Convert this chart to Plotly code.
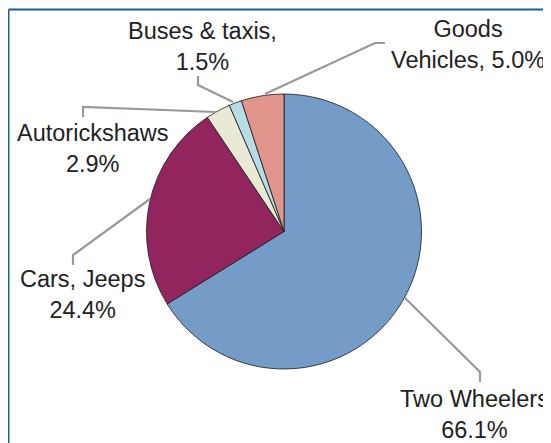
import plotly.graph_objects as go

# données du graphique
categories = ["Two Wheelers", "Cars, Jeeps", "Autorickshaws", "Buses & taxis", "Goods Vehicles"]
shares = [66.1, 24.4, 2.9, 1.5, 5.0]
colors = ["#749CC7", "#93255E", "#E8E9D6", "#B8DCE5", "#E2958D"]
label_texts = [
    "Two Wheelers<br>66.1%",
    "Cars, Jeeps<br>24.4%",
    "Autorickshaws<br>2.9%",
    "Buses & taxis,<br>1.5%",
    "Goods<br>Vehicles, 5.0%",
]

# la page ajoute une marge de 8 px en haut et à gauche
OFF = 8
W, H = 551 - OFF, 443 - OFF


def px(x, y):
    """pixels de la page -> coordonnées paper"""
    return (x - OFF) / W, 1 - (y - OFF) / H


# position des étiquettes (centre du bloc, en pixels de la page)
label_pos = [(474, 414), (82, 294), (93, 148), (202, 46), (468, 45)]

# lignes de rappel (polylignes en pixels de la page)
leaders = [
    [(405, 298), (480, 372), (480, 382)],
    [(73, 265), (73, 255), (150, 199)],
    [(83, 117), (83, 107), (216, 112)],
    [(198, 76), (198, 85), (233, 102)],
    [(385, 43), (375, 43), (265, 94)],
]

cx, cy, r = 284, 231.5, 137.5
x0, y0 = px(cx - r, cy + r)
x1, y1 = px(cx + r, cy - r)

fig = go.Figure(go.Pie(
    labels=categories,
    values=shares,
    sort=False,
    direction="clockwise",
    rotation=0,
    marker=dict(colors=colors, line=dict(color="#1a1a1a", width=0.8)),
    textinfo="none",
    hoverinfo="label+percent",
    showlegend=False,
    domain=dict(x=[x0, x1], y=[y0, y1]),
))

annotations = []
for txt, (x, y) in zip(label_texts, label_pos):
    ax, ay = px(x, y)
    annotations.append(dict(
        text=txt, x=ax, y=ay, xref="paper", yref="paper",
        xanchor="center", yanchor="middle", showarrow=False,
        font=dict(family="Liberation Sans, Arial, sans-serif", size=23.5, color="#222222"),
    ))

shapes = []
for pts in leaders:
    path = ""
    for i, (x, y) in enumerate(pts):
        a, b = px(x, y)
        path += ("M" if i == 0 else " L") + f" {a:.5f},{b:.5f}"
    shapes.append(dict(type="path", path=path, xref="paper", yref="paper",
                       line=dict(color="#999999", width=2.2)))

# cadre (seulement visible à gauche et en haut)
bx, by = px(8.5, 9.5)
shapes.append(dict(type="line", xref="paper", yref="paper",
                   x0=bx, y0=0, x1=bx, y1=by,
                   line=dict(color="#1F5C9E", width=2)))
shapes.append(dict(type="line", xref="paper", yref="paper",
                   x0=bx, y0=by, x1=1, y1=by,
                   line=dict(color="#1F5C9E", width=2)))

fig.update_layout(
    width=W, height=H,
    margin=dict(l=0, r=0, t=0, b=0),
    paper_bgcolor="white",
    plot_bgcolor="white",
    annotations=annotations,
    shapes=shapes,
)

fig.write_html("out.html")
